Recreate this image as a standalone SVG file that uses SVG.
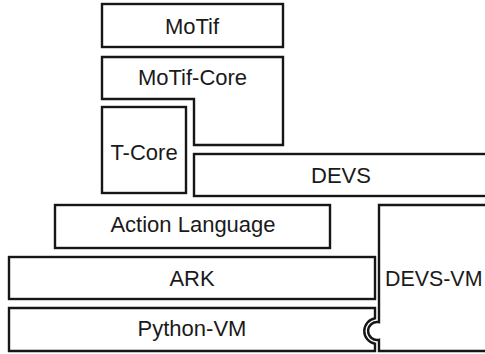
<svg xmlns="http://www.w3.org/2000/svg" width="485" height="354" viewBox="0 0 485 354">
<style>
.b{fill:#fff;stroke:#161616;stroke-width:2.4;stroke-linejoin:miter}
.t{font-family:"Liberation Sans",Arial,Helvetica,sans-serif;font-size:22px;fill:#1a1a1a}
.c{text-anchor:middle}
</style>
<rect width="485" height="354" fill="#fff"/>
<g id="motif"><rect class="b" x="102" y="4" width="181" height="43"/><text class="t c" x="192" y="34">MoTif</text></g>
<g id="motif-core"><path class="b" d="M102,57 H283 V145 H194 V99 H102 Z"/><text class="t c" x="192.5" y="85">MoTif-Core</text></g>
<g id="t-core"><rect class="b" x="102" y="107" width="84" height="86"/><text class="t c" x="144" y="160">T-Core</text></g>
<g id="devs"><rect class="b" x="194" y="154" width="300" height="42"/><text class="t c" x="341" y="183">DEVS</text></g>
<g id="action-language"><rect class="b" x="55" y="205" width="275" height="43"/><text class="t c" x="193" y="232">Action Language</text></g>
<g id="ark"><rect class="b" x="9" y="257" width="366" height="42"/><text class="t c" x="192" y="286">ARK</text></g>
<g id="python-vm"><path class="b" d="M9,308 H375 V318.2 A13,13 0 0 0 375,343.8 V351 H9 Z"/><text class="t c" x="192" y="336">Python-VM</text></g>
<g id="devs-vm"><path class="b" d="M494,205 H379 V322.2 A9,9 0 1 0 379,339.8 V351 H494 Z"/><text class="t" x="385" y="286" style="font-size:21.4px">DEVS-VM</text></g>
<g id="connectors"></g>
</svg>
